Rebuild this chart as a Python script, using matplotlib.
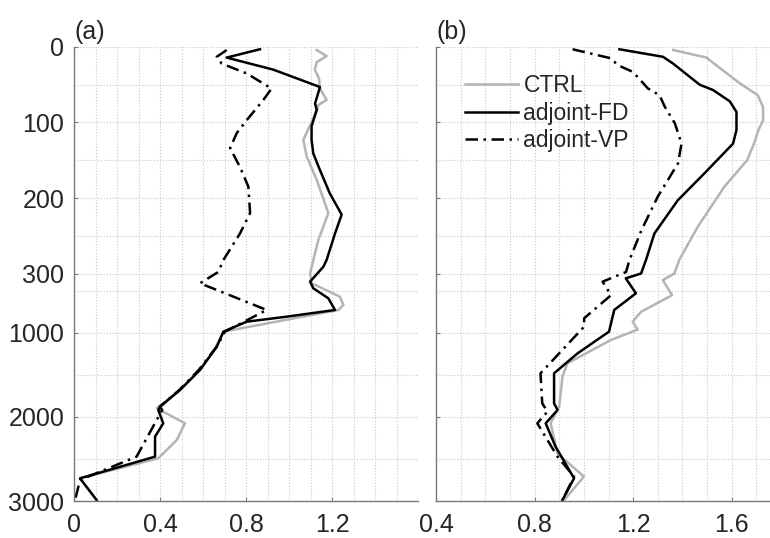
import numpy as np
import matplotlib
matplotlib.use("Agg")
import matplotlib.pyplot as plt
from matplotlib.ticker import FixedLocator, NullFormatter

plt.rcParams['font.family'] = ['Liberation Sans', 'DejaVu Sans']

# depth (m) and values
# panel (a)
ctrl_a_depth = [4, 12, 20, 30, 42, 55, 70, 77, 85, 123, 145, 176, 220, 256, 300, 415, 573, 670, 729, 984, 1164, 1440, 1679, 1896, 2075, 2274, 2492, 2730, 2988]
ctrl_a_val = [1.129, 1.175, 1.129, 1.12, 1.14, 1.144, 1.175, 1.136, 1.128, 1.067, 1.082, 1.129, 1.183, 1.136, 1.098, 1.106, 1.237, 1.253, 1.23, 0.695, 0.66, 0.586, 0.49, 0.385, 0.516, 0.478, 0.392, 0.028, 0.105]

fd_a_depth = [3, 14, 30, 53, 75, 83, 105, 123, 141, 163, 194, 222, 247, 282, 291, 396, 474, 592, 729, 808, 867, 984, 1164, 1440, 1679, 1877, 1917, 2075, 2234, 2472, 2730, 2988]
fd_a_val = [0.865, 0.71, 0.927, 1.144, 1.121, 1.129, 1.105, 1.105, 1.113, 1.144, 1.19, 1.245, 1.214, 1.175, 1.16, 1.098, 1.113, 1.183, 1.214, 0.989, 0.803, 0.695, 0.664, 0.586, 0.493, 0.40, 0.392, 0.415, 0.377, 0.377, 0.028, 0.105]

vp_a_depth = [4, 13, 22, 35, 55, 70, 97, 114, 134, 159, 185, 220, 247, 282, 298, 415, 729, 984, 1164, 1440, 1679, 1877, 1917, 2150, 2472, 2750, 2988]
vp_a_val = [0.71, 0.664, 0.687, 0.803, 0.919, 0.881, 0.803, 0.757, 0.726, 0.772, 0.811, 0.819, 0.772, 0.695, 0.671, 0.586, 0.896, 0.702, 0.664, 0.58, 0.49, 0.40, 0.41, 0.36, 0.291, 0.028, 0.005]

# panel (b)
ctrl_b_depth = [4, 14, 30, 48, 64, 80, 97, 110, 128, 150, 185, 238, 282, 300, 378, 555, 750, 867, 960, 1083, 1361, 1520, 1877, 2075, 2432, 2710, 2988]
ctrl_b_val = [1.362, 1.497, 1.56, 1.632, 1.706, 1.727, 1.727, 1.708, 1.69, 1.662, 1.57, 1.462, 1.387, 1.367, 1.32, 1.358, 1.232, 1.198, 1.218, 1.11, 0.933, 0.913, 0.9, 0.865, 0.893, 1.0, 0.92]

fd_b_depth = [3, 13, 22, 50, 57, 72, 86, 110, 128, 167, 203, 247, 282, 300, 357, 533, 729, 984, 1243, 1480, 1837, 1917, 2075, 2353, 2730, 2988]
fd_b_val = [1.144, 1.321, 1.362, 1.47, 1.524, 1.592, 1.619, 1.619, 1.605, 1.49, 1.381, 1.286, 1.252, 1.232, 1.17, 1.211, 1.123, 1.102, 0.974, 0.879, 0.879, 0.893, 0.845, 0.885, 0.96, 0.913]

vp_b_depth = [3, 15, 24, 33, 55, 64, 79, 101, 128, 154, 198, 243, 282, 298, 396, 555, 827, 925, 1480, 1837, 1937, 2075, 2472, 2710, 2988]
vp_b_val = [0.954, 1.11, 1.137, 1.199, 1.26, 1.307, 1.328, 1.369, 1.396, 1.382, 1.3, 1.233, 1.185, 1.171, 1.076, 1.11, 1.001, 1.001, 0.824, 0.831, 0.852, 0.811, 0.893, 0.96, 0.913]

depth_ticks = [0, 100, 200, 300, 1000, 2000, 3000]
depth_minor = [50, 150, 250, 500, 1500, 2500]

# piecewise linear depth axis (stretched upper 300 m)
knots_d = [0, 300, 1000, 3000]
knots_p = [0, 226.5, 286, 454]

def fwd(d):
    return np.interp(d, knots_d, knots_p)

def inv(p):
    return np.interp(p, knots_p, knots_d)

txt = '#262626'
gray = '#b4b4b4'
lw = 1.8
fs = 18

fig = plt.figure(figsize=(7.7, 5.38), dpi=100)
ax1 = fig.add_axes([74/770, 37/538, 344/770, 454/538])
ax2 = fig.add_axes([436/770, 37/538, 334/770, 454/538])

def style(ax, xlim, xticks, xminor):
    ax.set_yscale('function', functions=(fwd, inv))
    ax.set_ylim(3000, 0)
    ax.set_xlim(*xlim)
    ax.yaxis.set_major_locator(FixedLocator(depth_ticks))
    ax.yaxis.set_minor_locator(FixedLocator(depth_minor))
    ax.yaxis.set_minor_formatter(NullFormatter())
    ax.xaxis.set_major_locator(FixedLocator(xticks))
    ax.xaxis.set_minor_locator(FixedLocator(xminor))
    ax.grid(True, which='both', linestyle=':', color='#c8c8c8', linewidth=0.8)
    ax.set_axisbelow(True)
    for s in ['top', 'right']:
        ax.spines[s].set_visible(False)
    for s in ['left', 'bottom']:
        ax.spines[s].set_color('#7a7a7a')
        ax.spines[s].set_linewidth(1.0)
    ax.tick_params(which='major', direction='in', length=3, color='#7a7a7a',
                   labelsize=fs, labelcolor=txt)
    ax.tick_params(which='minor', length=0)
    ax.tick_params(axis='y', pad=7)
    ax.tick_params(axis='x', pad=9)

style(ax1, (0, 1.6), [0, 0.4, 0.8, 1.2], np.arange(0.1, 1.6, 0.1))
ax1.set_xticklabels(['0', '0.4', '0.8', '1.2'])
style(ax2, (0.4, 1.755), [0.4, 0.8, 1.2, 1.6], np.arange(0.5, 1.75, 0.1))
ax2.set_yticklabels([])

dd = (5, 2.2, 1, 2.2)
ax1.plot(ctrl_a_val, ctrl_a_depth, color=gray, lw=lw)
ax1.plot(fd_a_val, fd_a_depth, color='black', lw=lw)
ax1.plot(vp_a_val, vp_a_depth, color='black', lw=lw, linestyle=(0, dd))

ax2.plot(ctrl_b_val, ctrl_b_depth, color=gray, lw=lw, label='CTRL')
ax2.plot(fd_b_val, fd_b_depth, color='black', lw=lw, label='adjoint-FD')
ax2.plot(vp_b_val, vp_b_depth, color='black', lw=lw, linestyle=(0, dd), label='adjoint-VP')

ax2.legend(loc='upper left', bbox_to_anchor=(0.087, 0.94), frameon=False,
           fontsize=16.5, handlelength=2.3, handletextpad=0.25, labelspacing=0.2,
           borderpad=0, borderaxespad=0, labelcolor=txt)

ax1.set_title('(a)', loc='left', fontsize=fs, color=txt, pad=6)
ax2.set_title('(b)', loc='left', fontsize=fs, color=txt, pad=6)

fig.savefig('out.png', dpi=100)
